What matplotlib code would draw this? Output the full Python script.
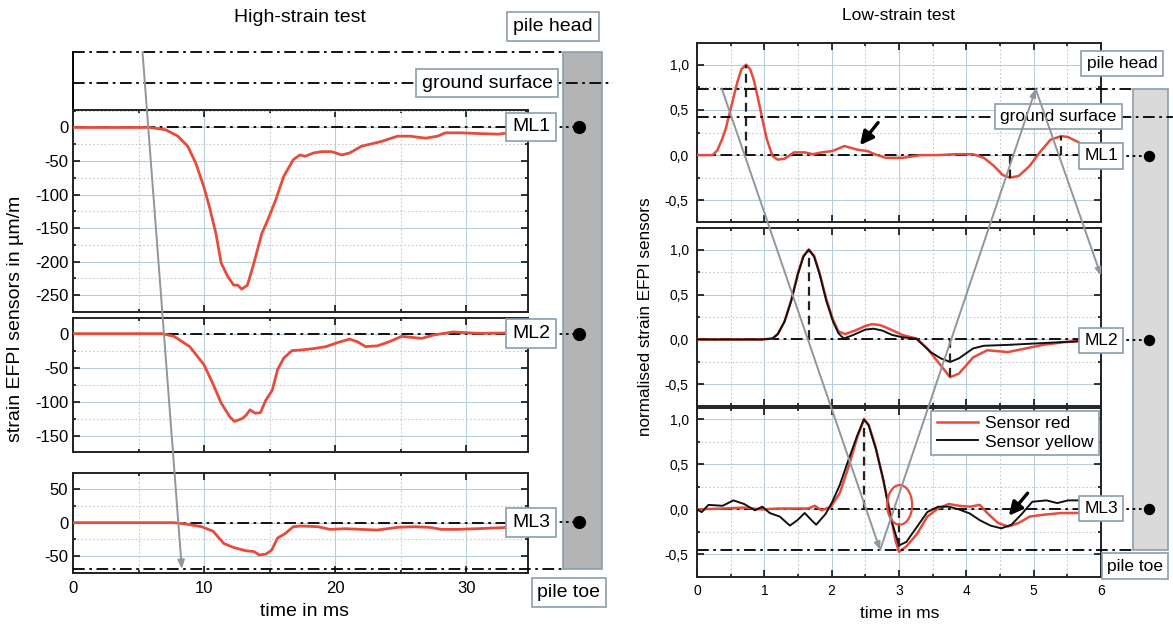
"""Strain records along the pile: high-strain test (left) vs low-strain test (right)."""

import matplotlib
matplotlib.use("Agg")
import matplotlib.pyplot as plt
from matplotlib.patches import Ellipse, Rectangle
from matplotlib.ticker import FuncFormatter, MultipleLocator
from matplotlib.transforms import blended_transform_factory

plt.rcParams["font.family"] = ["Liberation Sans", "DejaVu Sans"]
plt.rcParams["axes.unicode_minus"] = False

W, H = 1173, 625

# --------------------------------------------------------------------------- #
# Data
# --------------------------------------------------------------------------- #
SENSORS = ["ML1", "ML2", "ML3"]
SENSOR_DEPTH = [0.145, 0.545, 0.91]   # 0 = pile head, 1 = pile toe
GROUND_DEPTH = 0.06

# high-strain test, strain in um/m vs time in ms
hs_t_ml1 = [0, 5.85, 7.07, 8.0, 8.75, 9.36, 9.97, 10.4, 10.9, 11.3, 11.8, 12.26,
            12.56, 12.87, 13.3, 13.8, 14.4, 14.85, 15.46, 16.07, 16.8, 17.3, 17.7,
            18.35, 18.96, 19.7, 20.5, 21.1, 22.0, 23.5, 24.75, 25.7, 26.9, 27.8,
            28.4, 29.6, 30.85, 32.4, 33.3]
hs_ml1 = [0, 0, -3.5, -13, -28, -53, -88, -118, -158, -202, -222, -235, -235, -241,
          -235, -202, -158, -138, -108, -73, -48, -41, -43, -38, -36, -36, -41, -38,
          -28, -21, -13, -13, -16, -13, -8, -8, -9, -10, -8]

hs_t_ml2 = [0, 6.8, 7.7, 8.9, 10.0, 10.7, 11.3, 11.95, 12.3, 12.9, 13.2, 13.5, 13.9,
            14.3, 14.7, 15.2, 15.6, 16.07, 16.7, 17.4, 18.35, 19.3, 20.2, 21.1, 21.7,
            22.3, 23.2, 24.1, 25.06, 26.6, 27.5, 29.0, 29.9, 30.85, 33.3]
hs_ml2 = [0, 0, -4, -19, -46, -75, -102, -122, -129, -125, -120, -112, -117, -116,
          -98, -83, -53, -36, -25, -24, -22, -19, -13, -8, -12, -19, -18, -12, -4,
          -7, -2, 2.5, 1.5, 0.5, 1]

hs_t_ml3 = [0, 7.7, 8.6, 9.8, 10.7, 11.5, 12.25, 13.2, 13.8, 14.2, 14.7, 15.15, 15.6,
            16.2, 16.8, 17.4, 18.66, 19.6, 20.8, 22.0, 23.2, 24.75, 26.0, 27.2, 28.1,
            29.3, 30.85, 33.3]
hs_ml3 = [0, 0, -2, -6, -13, -31, -37, -42, -43, -48, -47, -41, -23, -16, -6, -5, -6,
          -10, -9, -10, -11, -7, -6, -7, -10, -10, -9, -7]

# wave front in the high-strain test (time, depth)
hs_ray_t = [5.3, 8.3]
hs_ray_d = [0.0, 1.0]

# low-strain test, normalised strain vs time in ms
ls_t_ml1 = [0, 0.23, 0.3, 0.37, 0.43, 0.5, 0.6, 0.66, 0.73, 0.79, 0.84, 0.89, 0.94,
            0.99, 1.04, 1.12, 1.2, 1.3, 1.44, 1.6, 1.72, 1.85, 2.01, 2.19, 2.38, 2.53,
            2.64, 2.8, 3.06, 3.32, 3.58, 3.84, 4.1, 4.26, 4.41, 4.54, 4.65, 4.78, 4.94,
            5.09, 5.25, 5.41, 5.51, 5.67]
ls_ml1 = [0, 0, 0.05, 0.17, 0.3, 0.51, 0.81, 0.95, 1.0, 0.95, 0.84, 0.68, 0.51, 0.33,
          0.17, -0.01, -0.05, -0.04, 0.03, 0.03, 0.01, 0.03, 0.045, 0.1, 0.06, 0.045,
          0.01, -0.03, -0.03, 0, 0, 0.01, 0.01, -0.03, -0.12, -0.22, -0.25, -0.23,
          -0.12, 0.03, 0.17, 0.21, 0.2, 0.14]

ls_t_ml2_red = [0, 0.96, 1.12, 1.2, 1.3, 1.4, 1.5, 1.58, 1.66, 1.74, 1.82, 1.92, 2.02,
                2.1, 2.2, 2.35, 2.5, 2.6, 2.72, 2.85, 3.05, 3.26, 3.42, 3.58, 3.76,
                3.89, 4.1, 4.31, 4.62, 4.88, 5.14, 5.45, 5.66]
ls_ml2_red = [0, 0, 0.01, 0.06, 0.2, 0.44, 0.74, 0.93, 1.0, 0.93, 0.74, 0.45, 0.22,
              0.09, 0.06, 0.1, 0.15, 0.17, 0.16, 0.12, 0.05, 0.01, -0.1, -0.25, -0.42,
              -0.38, -0.2, -0.12, -0.14, -0.1, -0.06, -0.03, -0.02]
ls_t_ml2_blk = [0, 0.96, 1.12, 1.2, 1.3, 1.4, 1.5, 1.58, 1.66, 1.74, 1.82, 1.92, 2.02,
                2.1, 2.18, 2.32, 2.5, 2.62, 2.75, 2.9, 3.05, 3.26, 3.47, 3.62, 3.76,
                3.89, 4.1, 4.26, 4.62, 5.14, 5.66]
ls_ml2_blk = [0, 0, 0.01, 0.06, 0.2, 0.43, 0.73, 0.92, 1.0, 0.92, 0.73, 0.43, 0.2,
              0.07, 0.01, 0.05, 0.11, 0.12, 0.1, 0.05, 0.025, 0.007, -0.14, -0.21,
              -0.25, -0.21, -0.1, -0.07, -0.06, -0.04, -0.02]

ls_t_ml3_red = [0, 0.4, 0.7, 0.95, 1.22, 1.48, 1.65, 1.75, 1.85, 1.99, 2.12, 2.25,
                2.38, 2.48, 2.55, 2.65, 2.75, 2.86, 2.95, 3.0, 3.11, 3.27, 3.42, 3.58,
                3.74, 3.89, 4.05, 4.2, 4.31, 4.47, 4.62, 4.78, 4.94, 5.14, 5.41, 5.66]
ls_ml3_red = [0, 0.01, 0.02, 0.0, 0.01, 0.01, 0.01, 0.04, -0.01, 0.03, 0.18, 0.47,
              0.8, 1.0, 0.94, 0.7, 0.38, 0.0, -0.35, -0.47, -0.41, -0.27, -0.08, 0.01,
              0.06, 0.04, 0.03, 0.05, -0.04, -0.15, -0.19, -0.15, -0.08, -0.06, -0.04,
              -0.04]
ls_t_ml3_blk = [0, 0.07, 0.17, 0.38, 0.54, 0.7, 0.86, 0.97, 1.08, 1.23, 1.38, 1.49,
                1.6, 1.7, 1.77, 1.91, 2.01, 2.12, 2.25, 2.38, 2.48, 2.55, 2.66, 2.77,
                2.87, 3.0, 3.11, 3.27, 3.42, 3.58, 3.74, 3.89, 4.05, 4.2, 4.36, 4.52,
                4.67, 4.83, 4.98, 5.19, 5.35, 5.51, 5.66]
ls_ml3_blk = [0, -0.03, 0.05, 0.04, 0.1, 0.06, -0.01, 0.03, -0.04, -0.08, -0.18,
              -0.12, -0.04, -0.12, -0.17, -0.05, 0.085, 0.27, 0.55, 0.82, 1.0, 0.93,
              0.66, 0.32, -0.08, -0.4, -0.36, -0.19, -0.03, 0.03, 0.03, 0, -0.045,
              -0.12, -0.18, -0.21, -0.17, -0.045, 0.085, 0.1, 0.07, 0.1, 0.1]

# characteristic peaks marked with dashed verticals (time, value)
ls_marks = [
    ([0.73, 4.65, 5.41], [1.0, -0.25, 0.21]),
    ([1.66, 3.76], [1.0, -0.42]),
    ([2.48, 3.0], [1.0, -0.47]),
]
# wave front in the low-strain test (time, depth)
ls_ray_t = [0.37, 2.72, 5.03, 6.0]
ls_ray_d = [0.0, 1.0, 0.0, 0.405]

RED = "#e64b3b"
GRID = "#b9cedb"
EDGE = "#8a9eab"
RAY = "#8d979d"
DASHDOT = (0, (6.5, 2.5, 1.5, 2.5))


def px_axes(fig, x0, y0, x1, y1, **kw):
    return fig.add_axes([x0 / W, 1 - y1 / H, (x1 - x0) / W, (y1 - y0) / H], **kw)


def style(ax, xlim, ylim, xmaj, ymaj, fs, pad, bottom_labels):
    ax.set_xlim(*xlim)
    ax.set_ylim(*ylim)
    ax.xaxis.set_major_locator(MultipleLocator(xmaj))
    ax.xaxis.set_minor_locator(MultipleLocator(xmaj / 2))
    ax.yaxis.set_major_locator(MultipleLocator(ymaj))
    ax.yaxis.set_minor_locator(MultipleLocator(ymaj / 2))
    ax.grid(which="major", color=GRID, lw=0.8)
    ax.grid(which="minor", color="#c9c9c9", lw=0.8, ls=(0, (1.5, 2)))
    ax.set_axisbelow(True)
    ax.tick_params(which="both", direction="in", top=True, right=True,
                   labelsize=fs, pad=pad, width=1.1, labelbottom=bottom_labels)
    ax.tick_params(which="major", length=5)
    ax.tick_params(which="minor", length=2.5)
    for s in ax.spines.values():
        s.set_linewidth(1.4)
        s.set_color("#222222")
    ax.axhline(0, color="black", lw=1.3, ls=DASHDOT, zorder=1.5)


def draw_pile(sk, g, fs, bar_color, dot_ms):
    tr = blended_transform_factory(sk.transAxes, sk.transData)
    box = dict(boxstyle="square,pad=0.3", fc="white", ec=EDGE, lw=1.2)
    sk.add_patch(Rectangle((g["bar_x"], 0), g["bar_w"], 1, transform=tr,
                           fc=bar_color, ec=EDGE, lw=1.2, clip_on=False, zorder=1))
    line_kw = dict(transform=tr, color="black", lw=1.3, ls=DASHDOT, clip_on=False)
    sk.plot([0, g["bar_x"]], [0, 0], zorder=2, **line_kw)
    sk.plot([0, g["bar_x"]], [1, 1], zorder=2, **line_kw)
    sk.plot([0, g["ground_end"]], [GROUND_DEPTH] * 2, zorder=3, **line_kw)
    for name, d in zip(SENSORS, SENSOR_DEPTH):
        sk.plot([1.0, g["dot_x"]], [d, d], transform=tr, color="black", lw=1.3,
                ls=(0, (1.5, 2)), clip_on=False, zorder=3)
        sk.plot([g["dot_x"]], [d], "o", transform=tr, color="black", ms=dot_ms,
                clip_on=False, zorder=4)
        sk.text(g["ml_x"], d, name, transform=tr, fontsize=fs, ha="center",
                va="center", bbox=box, zorder=5)
    sk.text(g["head_x"], g["head_d"], "pile head", transform=tr, fontsize=fs,
            ha="center", va="center", bbox=box, zorder=5)
    sk.text(g["gs_x"], GROUND_DEPTH, "ground surface", transform=tr, fontsize=fs,
            ha="center", va="center", bbox=box, zorder=5)
    sk.text(g["toe_x"], g["toe_d"], "pile toe", transform=tr, fontsize=fs,
            ha="center", va="center", bbox=box, zorder=5)


def draw_ray(sk, ts, ds, head):
    for i in range(len(ts) - 1):
        sk.annotate("", xy=(ts[i + 1], ds[i + 1]), xytext=(ts[i], ds[i]),
                    arrowprops=dict(arrowstyle=f"-|>,head_length={head[0]},head_width={head[1]}",
                                    color=RAY, lw=1.4, shrinkA=0, shrinkB=0),
                    annotation_clip=False, zorder=6)


fig = plt.figure(figsize=(W / 100, H / 100), dpi=100)

# --------------------------------------------------------------------------- #
# Left: high-strain test
# --------------------------------------------------------------------------- #
HS_X = (73, 528)
HS_XLIM = (0, 34.7)
ax0 = px_axes(fig, HS_X[0], 52, HS_X[1], 110)
ax0.set_xlim(*HS_XLIM)
ax0.set_xticks([])
ax0.set_yticks([])
for k in ("top", "right", "bottom"):
    ax0.spines[k].set_visible(False)
ax0.spines["left"].set_linewidth(1.4)

hs_rows = [((110, 312), (-275, 26), hs_t_ml1, hs_ml1),
           ((318, 452), (-174, 23), hs_t_ml2, hs_ml2),
           ((473, 573), (-75, 74), hs_t_ml3, hs_ml3)]
for i, ((y0, y1), ylim, t, v) in enumerate(hs_rows):
    ax = px_axes(fig, HS_X[0], y0, HS_X[1], y1)
    style(ax, HS_XLIM, ylim, 10, 50, 12, 3.5, i == 2)
    ax.plot(t, v, color=RED, lw=2.0, zorder=3)
    if i == 2:
        ax.tick_params(axis="x", pad=6)

sk_l = px_axes(fig, HS_X[0], 52, HS_X[1], 569)
sk_l.set_xlim(*HS_XLIM)
sk_l.set_ylim(1, 0)
sk_l.set_axis_off()
draw_pile(sk_l, dict(bar_x=1.077, bar_w=0.086, ground_end=1.187, dot_x=1.112,
                     ml_x=1.007, head_x=1.055, head_d=-0.049, gs_x=0.91,
                     toe_x=1.09, toe_d=1.045), 14, "#b4b4b4", 8.5)
draw_ray(sk_l, hs_ray_t, hs_ray_d, (0.5, 0.2))

fig.text(300 / W, 1 - 18 / H, "High-strain test", fontsize=14, ha="center", va="center")
fig.text(16 / W, 1 - 319 / H, "strain EFPI sensors in µm/m", fontsize=14,
         rotation=90, ha="center", va="center")
fig.text(304 / W, 1 - 611 / H, "time in ms", fontsize=14, ha="center", va="center")

# --------------------------------------------------------------------------- #
# Right: low-strain test
# --------------------------------------------------------------------------- #
LS_X = (697, 1101)
LS_XLIM = (0, 6)
comma = FuncFormatter(lambda v, _: f"{v:.1f}".replace(".", ","))

ls_rows = [((43, 222), (-0.74, 1.24)),
           ((228, 406), (-0.74, 1.24)),
           ((408, 577), (-0.75, 1.125))]
ls_axes = []
for i, ((y0, y1), ylim) in enumerate(ls_rows):
    ax = px_axes(fig, LS_X[0], y0, LS_X[1], y1)
    style(ax, LS_XLIM, ylim, 1, 0.5, 10, 6, i == 2)
    ax.yaxis.set_major_formatter(comma)
    if i == 2:
        ax.tick_params(axis="x", pad=5)
    ls_axes.append(ax)
r1, r2, r3 = ls_axes

r1.plot(ls_t_ml1, ls_ml1, color=RED, lw=1.8, zorder=3)
r2.plot(ls_t_ml2_red, ls_ml2_red, color=RED, lw=1.8, zorder=3)
r2.plot(ls_t_ml2_blk, ls_ml2_blk, color="#111111", lw=1.4, zorder=3)
r3.plot(ls_t_ml3_red, ls_ml3_red, color=RED, lw=1.8, zorder=3, label="Sensor red")
r3.plot(ls_t_ml3_blk, ls_ml3_blk, color="#111111", lw=1.4, zorder=3,
        label="Sensor yellow")

for ax, (mt, mv) in zip(ls_axes, ls_marks):
    ax.vlines(mt, 0, mv, colors="#222222", lw=1.6, linestyles=(0, (4, 2.5)), zorder=4)

arrow_kw = dict(arrowstyle="-|>,head_length=0.8,head_width=0.4", color="black",
                lw=2.4, shrinkA=0, shrinkB=0)
r1.annotate("", xy=(2.42, 0.11), xytext=(2.69, 0.36), arrowprops=arrow_kw, zorder=6)
r3.annotate("", xy=(4.63, -0.07), xytext=(4.91, 0.18), arrowprops=arrow_kw, zorder=6)
r3.add_patch(Ellipse((3.01, 0.05), 0.37, 0.44, fc="none", ec=RED, lw=1.6, zorder=5))

leg = r3.legend(loc="upper right", bbox_to_anchor=(0.995, 0.985), fontsize=12.5,
                frameon=True, fancybox=False, edgecolor=EDGE, framealpha=1,
                handlelength=2.4, borderpad=0.3, labelspacing=0.2,
                handletextpad=0.4, borderaxespad=0)
leg.get_frame().set_linewidth(1.2)

sk_r = px_axes(fig, LS_X[0], 89, LS_X[1], 550)
sk_r.set_xlim(*LS_XLIM)
sk_r.set_ylim(1, 0)
sk_r.set_axis_off()
draw_pile(sk_r, dict(bar_x=1.079, bar_w=0.087, ground_end=1.18, dot_x=1.119,
                     ml_x=1.0, head_x=1.052, head_d=-0.055, gs_x=0.894,
                     toe_x=1.084, toe_d=1.035), 12.5, "#dadada", 7.2)
draw_ray(sk_r, ls_ray_t, ls_ray_d, (0.45, 0.18))

fig.text(899 / W, 1 - 16 / H, "Low-strain test", fontsize=12.5, ha="center", va="center")
fig.text(645 / W, 1 - 317 / H, "normalised strain EFPI sensors", fontsize=12.3,
         rotation=90, ha="center", va="center")
fig.text(900 / W, 1 - 614 / H, "time in ms", fontsize=12.5, ha="center", va="center")

fig.savefig("out.png", dpi=100)
